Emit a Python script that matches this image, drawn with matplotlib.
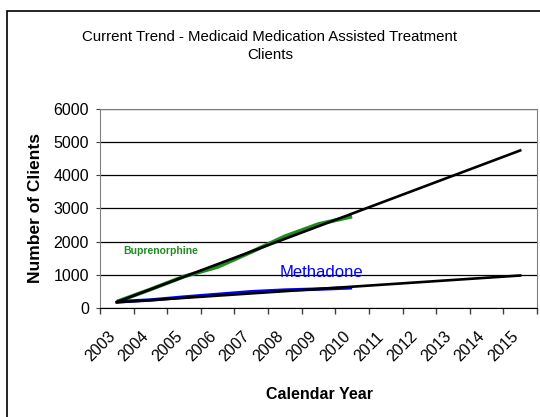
import matplotlib
matplotlib.use("Agg")
import matplotlib.pyplot as plt
from matplotlib.patches import Rectangle
from matplotlib.transforms import ScaledTranslation

# data
years = [2003, 2004, 2005, 2006, 2007, 2008, 2009, 2010, 2011, 2012, 2013, 2014, 2015]
obs_years = [2003, 2004, 2005, 2006, 2007, 2008, 2009, 2010]
buprenorphine = [190, 560, 950, 1240, 1690, 2160, 2530, 2760]
methadone = [190, 240, 330, 410, 490, 540, 570, 610]
trend_years = [2003, 2015]
bup_trend = [180, 4750]
meth_trend = [170, 980]
y_ticks = [0, 1000, 2000, 3000, 4000, 5000, 6000]

plt.rcParams['font.family'] = ['Liberation Sans', 'DejaVu Sans']

fig = plt.figure(figsize=(5.4, 4.17), dpi=100)
W, H = 540, 417

# outer chart border
fig.patches.append(Rectangle((7 / W, -0.1), 1.2, 1 - 11 / H + 0.1, transform=fig.transFigure,
                             fill=False, edgecolor='black', linewidth=1.2, zorder=1))

ax = fig.add_axes([100 / W, 1 - 308 / H, 437 / W, 199 / H])
ax.set_facecolor('none')

idx = {y: i for i, y in enumerate(years)}
xo = [idx[y] for y in obs_years]
xt = [idx[y] for y in trend_years]

ax.plot(xo, buprenorphine, color='#1f8c1f', linewidth=2.8, solid_capstyle='butt', zorder=3)
ax.plot(xo, methadone, color='#0000ff', linewidth=2.5, solid_capstyle='butt', zorder=3)
ax.plot(xt, bup_trend, color='black', linewidth=1.9, zorder=4)
ax.plot(xt, meth_trend, color='black', linewidth=1.9, zorder=4)

ax.set_xlim(-0.5, len(years) - 0.5)
ax.set_ylim(0, 6000)
ax.set_yticks(y_ticks)
ax.yaxis.grid(True, color='black', linewidth=0.9)
ax.set_axisbelow(True)

ax.set_xticks([i - 0.5 for i in range(len(years) + 1)])
ax.set_xticklabels([])
ax.set_xticks(range(len(years)), minor=True)
ax.set_xticklabels([str(y) for y in years], minor=True, rotation=45,
                   ha='right', va='center', rotation_mode='anchor')
ax.tick_params(axis='x', which='major', length=4.5, color='#404040', width=1)
ax.tick_params(axis='x', which='minor', length=0, labelsize=11.5, pad=3)
ax.tick_params(axis='y', length=3, color='#404040', labelsize=11.5, pad=5)
for lab in ax.get_xticklabels(minor=True):
    lab.set_transform(lab.get_transform() + ScaledTranslation(-4 / 100, -22 / 100, fig.dpi_scale_trans))

for side in ['top', 'right', 'left']:
    ax.spines[side].set_color('#808080')
ax.spines['bottom'].set_color('black')

ax.set_ylabel("Number of Clients", fontsize=12.5, fontweight='bold')
ax.yaxis.set_label_coords(-57 / 437, 0.5)
ax.set_xlabel("Calendar Year", fontsize=11.5, fontweight='bold')
ax.xaxis.set_label_coords(220 / 437, -79 / 199)

fig.text(270 / W, 1 - 46 / H, "Current Trend - Medicaid Medication Assisted Treatment\nClients",
         fontsize=10.8, ha='center', va='center', linespacing=1.45)

ax.text(idx[2004] + 0.3, 1720, "Buprenorphine", color='#1f8c1f', fontsize=7.5, fontweight='bold',
        ha='center', va='center')
ax.text(idx[2009] + 0.1, 1060, "Methadone", color='#0000ff', fontsize=12, ha='center', va='center')

fig.savefig("out.png", dpi=100)
